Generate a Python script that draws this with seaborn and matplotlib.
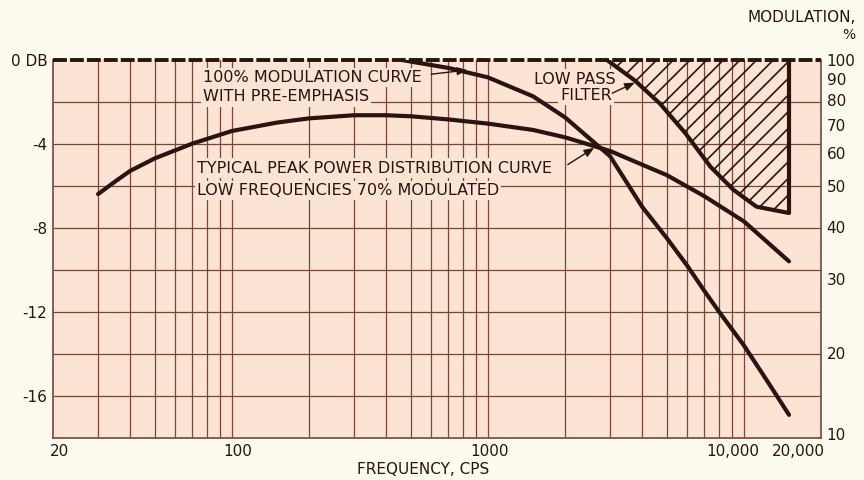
import numpy as np
import matplotlib
matplotlib.use("Agg")
import matplotlib.pyplot as plt
import seaborn as sns

# Typical peak power distribution (low frequencies 70% modulated)
peak_freq = [30, 35, 40, 50, 70, 100, 150, 200, 300, 400, 500, 700, 1000,
             1500, 2000, 3000, 4000, 5000, 7000, 10000, 15000]
peak_db = [-6.4, -5.8, -5.3, -4.7, -4.0, -3.4, -3.0, -2.8, -2.65, -2.65, -2.7,
           -2.85, -3.05, -3.35, -3.7, -4.35, -5.0, -5.5, -6.5, -7.7, -9.6]

# 100% modulation curve with pre-emphasis
mod_freq = [450, 500, 700, 1000, 1500, 2000, 3000, 4000, 5000, 6000, 7000,
            8000, 10000, 12500, 15000]
mod_db = [0.0, -0.1, -0.4, -0.85, -1.75, -2.75, -4.6, -7.0, -8.5, -9.8, -11.0,
          -12.0, -13.6, -15.4, -16.9]

# Low pass filter boundary
filter_freq = [2900, 3750, 4700, 5900, 7400, 9100, 11200, 15000]
filter_db = [0.0, -1.0, -2.1, -3.5, -5.1, -6.2, -7.0, -7.3]
cutoff_freq = 15000

grid_freqs = [30, 40, 50, 60, 70, 80, 90, 100, 200, 300, 400, 500, 600, 700,
              800, 900, 1000, 2000, 3000, 4000, 5000, 6000, 7000, 8000, 9000,
              10000]
grid_db = [-2, -4, -6, -8, -10, -12, -14, -16]
db_ticks = [0, -4, -8, -12, -16]
db_labels = ["0 DB", "-4", "-8", "-12", "-16"]
mod_ticks = [100, 90, 80, 70, 60, 50, 40, 30, 20]
freq_ticks = [20, 100, 1000, 10000, 20000]
freq_labels = ["20", "100", "1000", "10,000", "20,000"]

sns.set_theme(style="white")
plt.rcParams["font.family"] = ["DejaVu Sans"]
plt.rcParams["lines.scale_dashes"] = False
plt.rcParams["hatch.linewidth"] = 1.2

INK = "#2b1310"
GRID = "#7a4536"
PAPER = "#fdfaf0"
FIELD = "#fbe4d4"
FS = 11.5
TFS = 11

fig = plt.figure(figsize=(8.64, 4.8), dpi=100, facecolor=PAPER)
ax = fig.add_axes([53 / 864, 1 - 438 / 480, (821 - 53) / 864, (438 - 59.5) / 480])
ax.set_facecolor(FIELD)
ax.set_xscale("log")

# paper grid
for f in grid_freqs:
    ax.axvline(f, color=GRID, lw=0.9, zorder=1)
for d in grid_db:
    ax.axhline(d, color=GRID, lw=0.9, zorder=1)

# 0 dB reference, drawn dashed along the top
ax.axhline(0, color=INK, lw=2.8, dashes=(10, 2.2), zorder=5, clip_on=False)

# low pass filter region
ax.fill_between(filter_freq, filter_db, 0, facecolor="none", edgecolor=INK,
                hatch="//", lw=0, zorder=2)
sns.lineplot(x=filter_freq, y=filter_db, ax=ax, color=INK, lw=3, zorder=4)
ax.vlines(cutoff_freq, filter_db[-1], 0, color=INK, lw=3, zorder=4)

sns.lineplot(x=peak_freq, y=peak_db, ax=ax, color=INK, lw=3, zorder=4)
sns.lineplot(x=mod_freq, y=mod_db, ax=ax, color=INK, lw=3, zorder=4)

ax.set_xlim(20, 20000)
ax.set_ylim(-18, 0)

for side in ["left", "right", "bottom"]:
    ax.spines[side].set_visible(True)
    ax.spines[side].set_color(GRID)
    ax.spines[side].set_linewidth(1.2)
ax.spines["top"].set_visible(False)

ax.set_xticks([])
ax.xaxis.set_minor_locator(matplotlib.ticker.NullLocator())
ax.set_yticks(db_ticks, db_labels)
ax.yaxis.set_minor_locator(matplotlib.ticker.NullLocator())
ax.tick_params(axis="y", length=0, pad=4, labelsize=TFS, colors=INK)
ax.set_xlabel("")
ax.set_ylabel("")

# frequency labels under the axis
x_offsets = [5, 4, 1, -8, -16]
for f, lab, dx in zip(freq_ticks, freq_labels, x_offsets):
    ax.annotate(lab, xy=(f, 0), xycoords=("data", "axes fraction"),
                xytext=(dx, -10), textcoords="offset points", ha="center",
                va="center", fontsize=TFS, color=INK)
fig.text(423 / 864, 1 - 469 / 480, "FREQUENCY, CPS", ha="center", va="center",
         fontsize=TFS, color=INK)

# modulation percentage scale on the right
ax2 = ax.twinx()
ax2.set_ylim(-18, 0)
ax2.set_yticks([20 * np.log10(p / 100) for p in mod_ticks],
               [str(p) for p in mod_ticks])
ax2.tick_params(axis="y", length=0, pad=4, labelsize=TFS, colors=INK)
for s in ax2.spines.values():
    s.set_visible(False)
ax2.grid(False)
ax.annotate("10", xy=(1, 0), xycoords="axes fraction", xytext=(4, 1.5),
            textcoords="offset points", ha="left", va="center", fontsize=TFS,
            color=INK)
fig.text(856 / 864, 1 - 18 / 480, "MODULATION,", ha="right", va="center",
         fontsize=TFS, color=INK)
fig.text(849 / 864, 1 - 35 / 480, "%", ha="center", va="center",
         fontsize=TFS - 1, color=INK)

box = dict(facecolor=FIELD, edgecolor="none", pad=1.5)
arrow = dict(arrowstyle="-|>,head_length=0.5,head_width=0.2", color=INK,
             lw=1.0, shrinkA=0, shrinkB=0)

ax.text(77, -0.87, "100% MODULATION CURVE", ha="left", va="center",
        fontsize=FS, color=INK, bbox=box, zorder=3)
ax.text(77, -1.78, "WITH PRE-EMPHASIS", ha="left", va="center",
        fontsize=FS, color=INK, bbox=box, zorder=3)
ax.annotate("", xy=(830, -0.5), xytext=(600, -0.7),
            arrowprops=arrow, zorder=6)

ax.text(73, -5.16, "TYPICAL PEAK POWER DISTRIBUTION CURVE", ha="left",
        va="center", fontsize=FS, color=INK, bbox=box, zorder=3)
ax.text(73, -6.21, "LOW FREQUENCIES 70% MODULATED", ha="left", va="center",
        fontsize=FS, color=INK, bbox=box, zorder=3)
ax.annotate("", xy=(2600, -4.2), xytext=(2050, -5.0),
            arrowprops=arrow, zorder=6)

ax.text(3140, -0.93, "LOW PASS", ha="right", va="center", fontsize=FS,
        color=INK, bbox=box, zorder=3)
ax.text(3050, -1.69, "FILTER", ha="right", va="center", fontsize=FS,
        color=INK, bbox=box, zorder=3)
ax.annotate("", xy=(3750, -1.1), xytext=(3060, -1.6),
            arrowprops=arrow, zorder=6)

fig.savefig("out.png", dpi=100, facecolor=PAPER)
